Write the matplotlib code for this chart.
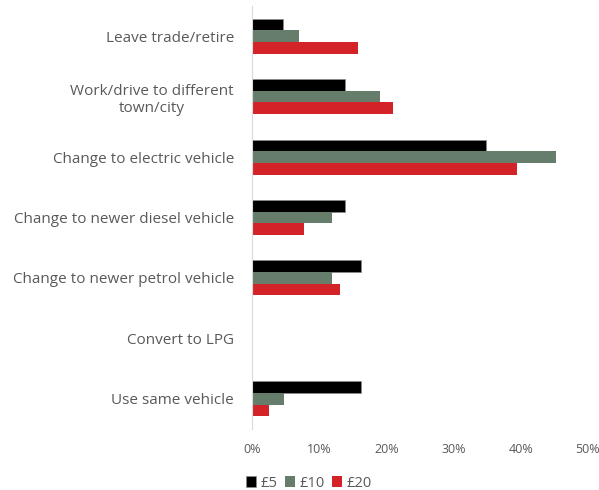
import matplotlib.pyplot as plt
import numpy as np

# Data (in %)
categories = [
    "Leave trade/retire",
    "Work/drive to different\ntown/city",
    "Change to electric vehicle",
    "Change to newer diesel vehicle",
    "Change to newer petrol vehicle",
    "Convert to LPG",
    "Use same vehicle",
]
series_names = ["£5", "£10", "£20"]
vals_5 = [4.6, 13.9, 34.8, 13.9, 16.2, 0.0, 16.2]
vals_10 = [7.0, 19.0, 45.2, 11.9, 11.9, 0.0, 4.7]
vals_20 = [15.8, 21.0, 39.4, 7.8, 13.1, 0.0, 2.5]
x_ticks = [0, 10, 20, 30, 40, 50]

colors = ["#000000", "#667d6c", "#d32228"]
text_col = "#595959"

plt.rcParams["font.family"] = ["Open Sans", "DejaVu Sans"]

fig = plt.figure(figsize=(5.99, 4.90), dpi=100)
ax = fig.add_axes([252 / 599, 1 - 429 / 490, 336 / 599, 423 / 490])

y = np.arange(len(categories))
h = 0.193
for i, (name, vals) in enumerate(zip(series_names, [vals_5, vals_10, vals_20])):
    ax.barh(y + (i - 1) * h, vals, height=h, color=colors[i], label=name,
            edgecolor="#8c8c8c" if i == 0 else "none", linewidth=0.5)

ax.set_ylim(len(categories) - 0.5, -0.5)
ax.set_xlim(0, 50)
ax.set_yticks(y)
ax.set_yticklabels(categories, fontsize=11, color=text_col, ha="right",
                   multialignment="center")
ax.set_xticks(x_ticks)
ax.set_xticklabels([f"{t}%" for t in x_ticks], fontsize=9, color=text_col)
ax.tick_params(axis="both", length=0)
ax.tick_params(axis="y", pad=13)
ax.tick_params(axis="x", pad=10)

for s in ["top", "right", "bottom"]:
    ax.spines[s].set_visible(False)
ax.spines["left"].set_color("#d9d9d9")
ax.spines["left"].set_linewidth(0.8)

leg = fig.legend(loc="center", bbox_to_anchor=(309 / 599, 1 - 483 / 490),
                 ncol=3, frameon=False, fontsize=10.5, handlelength=0.7,
                 handleheight=0.7, handletextpad=0.3, columnspacing=0.5)
for t in leg.get_texts():
    t.set_color(text_col)

fig.savefig("out.png", dpi=100)
